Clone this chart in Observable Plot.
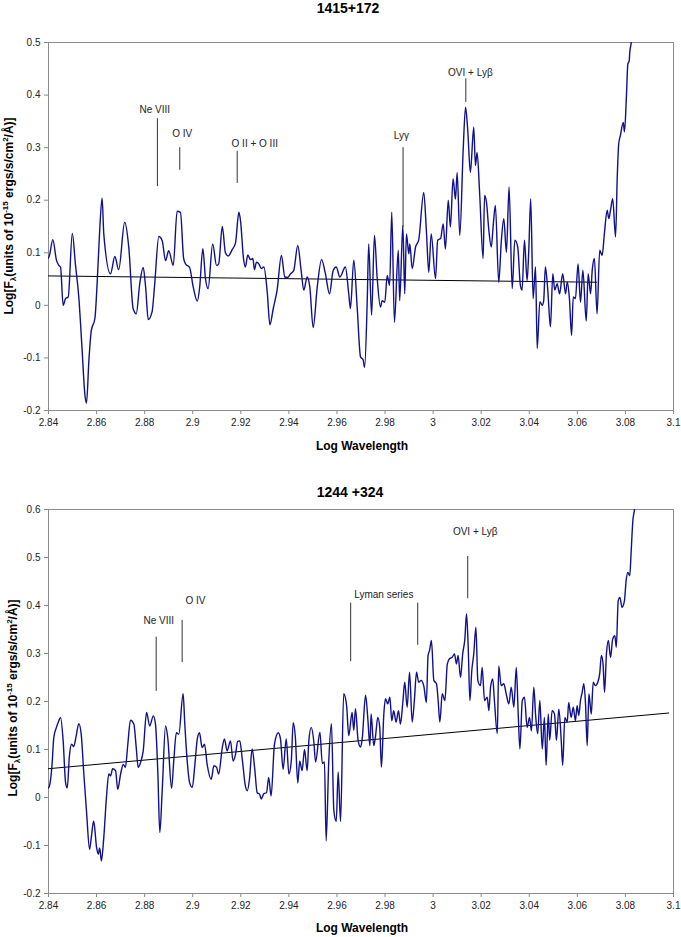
<!DOCTYPE html>
<html>
<head>
<meta charset="utf-8">
<script src="https://cdn.jsdelivr.net/npm/d3@7"></script>
<script src="https://cdn.jsdelivr.net/npm/@observablehq/plot@0.6"></script>
<style>
  body { margin: 0; background: #fff; font-family: "Liberation Sans", Arial, sans-serif; }
  #wrap { position: relative; width: 681px; height: 937px; overflow: hidden; }
  .panel { position: absolute; left: 0; }
  .title { position: absolute; left: 0; font-size: 14px; font-weight: bold; line-height: 16px; text-align: center; color: #000; white-space: nowrap; }
  .ytitle { position: absolute; font-size: 12px; font-weight: bold; line-height: 14px; color: #000; white-space: nowrap;
            transform: translate(-50%, -50%) rotate(-90deg); }
  .ytitle sub, .ytitle sup { font-size: 8px; line-height: 0; }
</style>
</head>
<body>
<div id="wrap">
  <div id="p1" class="panel" style="top:0"></div>
  <div id="p2" class="panel" style="top:476px"></div>
  <div class="title" style="top:0;width:696px">1415+172</div>
  <div class="title" style="top:484px;width:700px">1244 +324</div>
  <div class="ytitle" style="left:9px;top:216px">Log[F<sub>λ</sub>(units of 10<sup>-15</sup> ergs/s/cm<sup>2</sup>/Å)]</div>
  <div class="ytitle" style="left:13px;top:698px">Log[F<sub>λ</sub>(units of 10<sup>-15</sup> ergs/s/cm<sup>2</sup>/Å)]</div>
</div>
<script>
const xTitle = "Log Wavelength";
const xTicks = [2.84, 2.86, 2.88, 2.9, 2.92, 2.94, 2.96, 2.98, 3, 3.02, 3.04, 3.06, 3.08, 3.1];
const xTickLabels = ["2.84","2.86","2.88","2.9","2.92","2.94","2.96","2.98","3","3.02","3.04","3.06","3.08","3.1"];
const topYTicks = [-0.2, -0.1, 0, 0.1, 0.2, 0.3, 0.4, 0.5];
const topYTickLabels = ["-0.2","-0.1","0","0.1","0.2","0.3","0.4","0.5"];
const botYTicks = [-0.2, -0.1, 0, 0.1, 0.2, 0.3, 0.4, 0.5, 0.6];
const botYTickLabels = ["-0.2","-0.1","0","0.1","0.2","0.3","0.4","0.5","0.6"];

// 1415+172 spectrum: [log wavelength, log flux]
const topSpectrum = [[2.8400,0.090],[2.8404,0.095],[2.8418,0.125],[2.8433,0.086],[2.8443,0.076],[2.8450,0.073],[2.8461,0.000],[2.8471,0.013],[2.8482,0.016],[2.8499,0.137],[2.8512,0.078],[2.8526,0.016],[2.8540,-0.086],[2.8551,-0.168],[2.8558,-0.186],[2.8568,-0.105],[2.8578,-0.048],[2.8593,-0.025],[2.8603,0.048],[2.8613,0.143],[2.8623,0.204],[2.8630,0.136],[2.8658,0.060],[2.8676,0.093],[2.8692,0.068],[2.8717,0.158],[2.8734,0.110],[2.8752,-0.006],[2.8765,-0.016],[2.8780,0.043],[2.8794,0.072],[2.8804,0.035],[2.8815,-0.027],[2.8831,-0.012],[2.8841,0.036],[2.8859,0.131],[2.8873,0.123],[2.8887,0.085],[2.8900,0.104],[2.8919,0.076],[2.8935,0.179],[2.8949,0.177],[2.8962,0.090],[2.8970,0.079],[2.8987,0.072],[2.9002,0.035],[2.9019,0.008],[2.9029,0.035],[2.9042,0.108],[2.9053,0.051],[2.9064,0.032],[2.9083,0.117],[2.9099,0.076],[2.9108,0.079],[2.9123,0.150],[2.9136,0.100],[2.9148,0.094],[2.9164,0.106],[2.9178,0.119],[2.9192,0.177],[2.9199,0.160],[2.9211,0.090],[2.9219,0.073],[2.9229,0.096],[2.9240,0.087],[2.9250,0.089],[2.9257,0.068],[2.9265,0.082],[2.9275,0.079],[2.9285,0.070],[2.9296,0.073],[2.9310,0.025],[2.9321,-0.037],[2.9335,-0.006],[2.9351,0.029],[2.9369,0.095],[2.9383,0.054],[2.9395,0.053],[2.9407,0.060],[2.9420,0.066],[2.9437,0.114],[2.9451,0.066],[2.9462,0.029],[2.9476,0.054],[2.9487,0.035],[2.9501,-0.042],[2.9518,0.035],[2.9536,0.087],[2.9552,0.060],[2.9569,0.022],[2.9584,0.066],[2.9597,0.073],[2.9612,0.054],[2.9635,0.073],[2.9649,0.022],[2.9656,-0.006],[2.9670,0.086],[2.9684,-0.003],[2.9698,-0.098],[2.9709,-0.104],[2.9715,-0.118],[2.9726,0.010],[2.9732,0.117],[2.9744,-0.019],[2.9756,0.133],[2.9767,0.054],[2.9781,-0.003],[2.9788,0.009],[2.9799,0.006],[2.9809,0.057],[2.9819,0.038],[2.9828,0.177],[2.9839,-0.032],[2.9855,0.105],[2.9861,0.009],[2.9874,0.152],[2.9882,0.022],[2.9889,0.136],[2.9899,0.098],[2.9903,0.117],[2.9913,0.070],[2.9927,0.111],[2.9940,0.124],[2.9961,0.215],[2.9972,0.142],[2.9982,0.063],[2.9992,0.136],[3.0010,0.051],[3.0019,0.124],[3.0031,0.127],[3.0042,0.155],[3.0051,0.107],[3.0063,0.200],[3.0072,0.149],[3.0083,0.241],[3.0093,0.202],[3.0100,0.253],[3.0111,0.133],[3.0125,0.295],[3.0135,0.377],[3.0144,0.333],[3.0155,0.253],[3.0169,0.339],[3.0176,0.266],[3.0183,0.291],[3.0194,0.209],[3.0208,0.089],[3.0214,0.209],[3.0222,0.196],[3.0232,0.142],[3.0242,0.111],[3.0250,0.152],[3.0259,0.190],[3.0273,0.044],[3.0284,0.124],[3.0294,0.165],[3.0305,0.101],[3.0316,0.225],[3.0329,0.032],[3.0340,0.124],[3.0352,0.111],[3.0363,0.038],[3.0370,0.029],[3.0380,0.124],[3.0391,0.047],[3.0398,0.105],[3.0406,0.203],[3.0416,0.013],[3.0426,0.073],[3.0433,-0.082],[3.0444,0.007],[3.0454,0.000],[3.0460,0.009],[3.0467,0.073],[3.0477,0.029],[3.0488,-0.041],[3.0498,0.060],[3.0506,0.029],[3.0516,0.041],[3.0526,0.022],[3.0539,0.060],[3.0551,0.022],[3.0558,0.044],[3.0567,0.013],[3.0576,-0.057],[3.0583,0.016],[3.0592,0.013],[3.0603,0.079],[3.0613,0.006],[3.0623,0.067],[3.0637,-0.030],[3.0645,0.060],[3.0655,0.022],[3.0662,0.067],[3.0671,0.089],[3.0682,-0.016],[3.0693,0.105],[3.0703,0.095],[3.0713,0.139],[3.0724,0.181],[3.0731,0.165],[3.0738,0.181],[3.0747,0.203],[3.0759,0.130],[3.0766,0.244],[3.0772,0.307],[3.0779,0.323],[3.0791,0.348],[3.0796,0.330],[3.0804,0.396],[3.0810,0.459],[3.0816,0.466],[3.0818,0.481],[3.0824,0.499],[3.0831,0.540]];
const topFit = [[2.84, 0.056], [3.068, 0.044]];
const topMarkers = [
  {x: 2.8853, y1: 0.226, y2: 0.355},
  {x: 2.8946, y1: 0.257, y2: 0.300},
  {x: 2.9185, y1: 0.232, y2: 0.293},
  {x: 2.9875, y1: 0.148, y2: 0.300},
  {x: 3.0136, y1: 0.386, y2: 0.431}
];
const topLabels = [
  {text: "Ne VIII", x: 2.8842, y: 0.372},
  {text: "O IV", x: 2.8956, y: 0.326},
  {text: "O II + O III", x: 2.9258, y: 0.308},
  {text: "Lyγ", x: 2.9868, y: 0.323},
  {text: "OVI + Lyβ", x: 3.0155, y: 0.443}
];

// 1244+324 spectrum
const botSpectrum = [[2.8400,0.020],[2.8404,0.024],[2.8415,0.070],[2.8422,0.125],[2.8433,0.146],[2.8443,0.160],[2.8450,0.167],[2.8461,0.118],[2.8471,0.031],[2.8478,0.020],[2.8487,0.087],[2.8496,0.111],[2.8505,0.106],[2.8515,0.128],[2.8526,0.154],[2.8536,0.132],[2.8547,0.049],[2.8558,-0.028],[2.8571,-0.108],[2.8578,-0.083],[2.8588,-0.049],[2.8600,-0.104],[2.8607,-0.118],[2.8613,-0.105],[2.8620,-0.132],[2.8630,-0.083],[2.8641,0.000],[2.8651,0.049],[2.8658,0.045],[2.8667,0.060],[2.8679,0.056],[2.8688,0.017],[2.8700,0.049],[2.8711,0.069],[2.8720,0.063],[2.8730,0.111],[2.8741,0.161],[2.8755,0.153],[2.8765,0.104],[2.8773,0.063],[2.8783,0.073],[2.8794,0.097],[2.8808,0.177],[2.8821,0.149],[2.8836,0.170],[2.8845,0.153],[2.8855,0.049],[2.8863,-0.073],[2.8873,0.014],[2.8887,0.149],[2.8896,0.125],[2.8912,0.019],[2.8921,0.076],[2.8932,0.135],[2.8942,0.132],[2.8960,0.216],[2.8967,0.153],[2.8977,0.076],[2.8987,0.031],[2.8998,0.021],[2.9009,0.069],[2.9019,0.122],[2.9028,0.135],[2.9039,0.104],[2.9049,0.111],[2.9060,0.069],[2.9077,0.038],[2.9088,0.066],[2.9099,0.063],[2.9108,0.049],[2.9123,0.104],[2.9132,0.122],[2.9143,0.097],[2.9157,0.118],[2.9168,0.076],[2.9178,0.090],[2.9187,0.117],[2.9196,0.118],[2.9206,0.080],[2.9219,0.024],[2.9227,0.014],[2.9236,0.038],[2.9247,0.101],[2.9258,0.059],[2.9268,0.010],[2.9278,0.007],[2.9285,-0.003],[2.9296,0.008],[2.9307,0.010],[2.9316,0.042],[2.9326,0.003],[2.9340,0.111],[2.9356,0.135],[2.9365,0.122],[2.9376,0.059],[2.9389,0.122],[2.9400,0.049],[2.9410,0.076],[2.9418,0.156],[2.9427,0.125],[2.9437,0.030],[2.9445,0.076],[2.9455,0.056],[2.9465,0.100],[2.9476,0.056],[2.9483,0.118],[2.9493,0.146],[2.9504,0.115],[2.9511,0.074],[2.9529,0.136],[2.9539,0.071],[2.9548,0.074],[2.9555,-0.090],[2.9566,0.077],[2.9577,0.154],[2.9587,-0.027],[2.9597,-0.050],[2.9605,0.053],[2.9615,-0.050],[2.9628,0.216],[2.9640,0.192],[2.9649,0.129],[2.9663,0.177],[2.9670,0.140],[2.9677,0.185],[2.9688,0.119],[2.9698,0.105],[2.9705,0.122],[2.9719,0.213],[2.9728,0.167],[2.9737,0.108],[2.9742,0.174],[2.9753,0.108],[2.9760,0.126],[2.9770,0.167],[2.9778,0.146],[2.9785,0.063],[2.9795,0.174],[2.9802,0.206],[2.9811,0.195],[2.9820,0.209],[2.9828,0.160],[2.9836,0.181],[2.9846,0.157],[2.9856,0.181],[2.9864,0.153],[2.9874,0.198],[2.9882,0.240],[2.9892,0.188],[2.9902,0.261],[2.9913,0.157],[2.9922,0.202],[2.9931,0.261],[2.9940,0.240],[2.9950,0.244],[2.9961,0.233],[2.9972,0.198],[2.9979,0.296],[2.9985,0.306],[2.9993,0.327],[3.0003,0.244],[3.0014,0.237],[3.0021,0.202],[3.0028,0.157],[3.0038,0.216],[3.0049,0.202],[3.0059,0.278],[3.0068,0.289],[3.0079,0.292],[3.0089,0.299],[3.0097,0.278],[3.0104,0.296],[3.0114,0.250],[3.0123,0.299],[3.0132,0.330],[3.0139,0.383],[3.0146,0.313],[3.0153,0.202],[3.0161,0.265],[3.0169,0.299],[3.0178,0.355],[3.0186,0.244],[3.0197,0.233],[3.0204,0.271],[3.0214,0.202],[3.0225,0.209],[3.0232,0.181],[3.0239,0.230],[3.0248,0.247],[3.0255,0.202],[3.0267,0.133],[3.0273,0.274],[3.0283,0.233],[3.0294,0.237],[3.0304,0.216],[3.0315,0.195],[3.0325,0.230],[3.0336,0.188],[3.0346,0.271],[3.0354,0.174],[3.0361,0.101],[3.0371,0.202],[3.0380,0.209],[3.0391,0.146],[3.0401,0.167],[3.0409,0.139],[3.0419,0.230],[3.0426,0.174],[3.0435,0.133],[3.0444,0.202],[3.0454,0.101],[3.0463,0.167],[3.0470,0.067],[3.0479,0.174],[3.0485,0.119],[3.0495,0.181],[3.0505,0.174],[3.0513,0.119],[3.0523,0.184],[3.0533,0.119],[3.0539,0.067],[3.0548,0.167],[3.0558,0.157],[3.0564,0.198],[3.0574,0.167],[3.0583,0.188],[3.0592,0.160],[3.0599,0.191],[3.0606,0.171],[3.0613,0.202],[3.0620,0.219],[3.0627,0.237],[3.0634,0.195],[3.0641,0.108],[3.0648,0.216],[3.0658,0.174],[3.0666,0.240],[3.0675,0.233],[3.0685,0.240],[3.0693,0.258],[3.0700,0.296],[3.0707,0.278],[3.0713,0.219],[3.0721,0.299],[3.0729,0.327],[3.0738,0.292],[3.0747,0.330],[3.0756,0.337],[3.0762,0.313],[3.0770,0.410],[3.0777,0.417],[3.0786,0.396],[3.0796,0.410],[3.0803,0.452],[3.0810,0.469],[3.0818,0.462],[3.0824,0.514],[3.0831,0.577],[3.0838,0.601],[3.0844,0.640]];
const botFit = [[2.84, 0.060], [3.098, 0.176]];
const botMarkers = [
  {x: 2.8848, y1: 0.221, y2: 0.334},
  {x: 2.8956, y1: 0.281, y2: 0.369},
  {x: 2.9657, y1: 0.283, y2: 0.405},
  {x: 2.9936, y1: 0.317, y2: 0.405},
  {x: 3.0144, y1: 0.414, y2: 0.502}
];
const botLabels = [
  {text: "Ne VIII", x: 2.8859, y: 0.369},
  {text: "O IV", x: 2.9011, y: 0.410},
  {text: "Lyman series", x: 2.9795, y: 0.422},
  {text: "OVI + Lyβ", x: 3.0175, y: 0.553}
];

function panel({spectrum, fit, markers, labels, yDomain, yTicks, yTickLabels, height, marginTop, marginBottom, xTitleDy}) {
  const xFmt = new Map(xTicks.map((t, i) => [t, xTickLabels[i]]));
  const yFmt = new Map(yTicks.map((t, i) => [t, yTickLabels[i]]));
  return Plot.plot({
    width: 681, height, marginLeft: 48, marginRight: 8, marginTop, marginBottom,
    style: {fontFamily: "'Liberation Sans', Arial, sans-serif", fontSize: "10px", background: "transparent", overflow: "visible"},
    x: {domain: [2.84, 3.1]},
    y: {domain: yDomain},
    marks: [
      Plot.axisX({ticks: xTicks, tickFormat: d => xFmt.get(d), tickSize: 4, tickPadding: 4, stroke: "#888", fill: "#222", label: null}),
      Plot.axisY({ticks: yTicks, tickFormat: d => yFmt.get(d), tickSize: 4, tickPadding: 4, stroke: "#888", fill: "#222", label: null}),
      Plot.frame({stroke: "#8c8c8c"}),
      Plot.line(fit, {x: d => d[0], y: d => d[1], stroke: "#000", strokeWidth: 1}),
      Plot.line(spectrum, {x: d => d[0], y: d => d[1], stroke: "#10108c", strokeWidth: 1.4, curve: "monotone-x", clip: true}),
      Plot.ruleX(markers, {x: "x", y1: "y1", y2: "y2", stroke: "#333", strokeWidth: 1}),
      Plot.text(labels, {x: "x", y: "y", text: "text", fontSize: 10, fill: "#222"}),
      Plot.text([xTitle], {frameAnchor: "bottom", lineAnchor: "bottom", dy: xTitleDy, dx: 1, fontSize: 12, fontWeight: "bold", fill: "#000"})
    ]
  });
}

document.getElementById("p1").appendChild(panel({
  spectrum: topSpectrum, fit: topFit, markers: topMarkers, labels: topLabels,
  yDomain: [-0.2, 0.5], yTicks: topYTicks, yTickLabels: topYTickLabels,
  height: 476, marginTop: 42, marginBottom: 66, xTitleDy: 39.5
}));
document.getElementById("p2").appendChild(panel({
  spectrum: botSpectrum, fit: botFit, markers: botMarkers, labels: botLabels,
  yDomain: [-0.2, 0.6], yTicks: botYTicks, yTickLabels: botYTickLabels,
  height: 461, marginTop: 33, marginBottom: 44, xTitleDy: 38
}));
</script>
</body>
</html>
